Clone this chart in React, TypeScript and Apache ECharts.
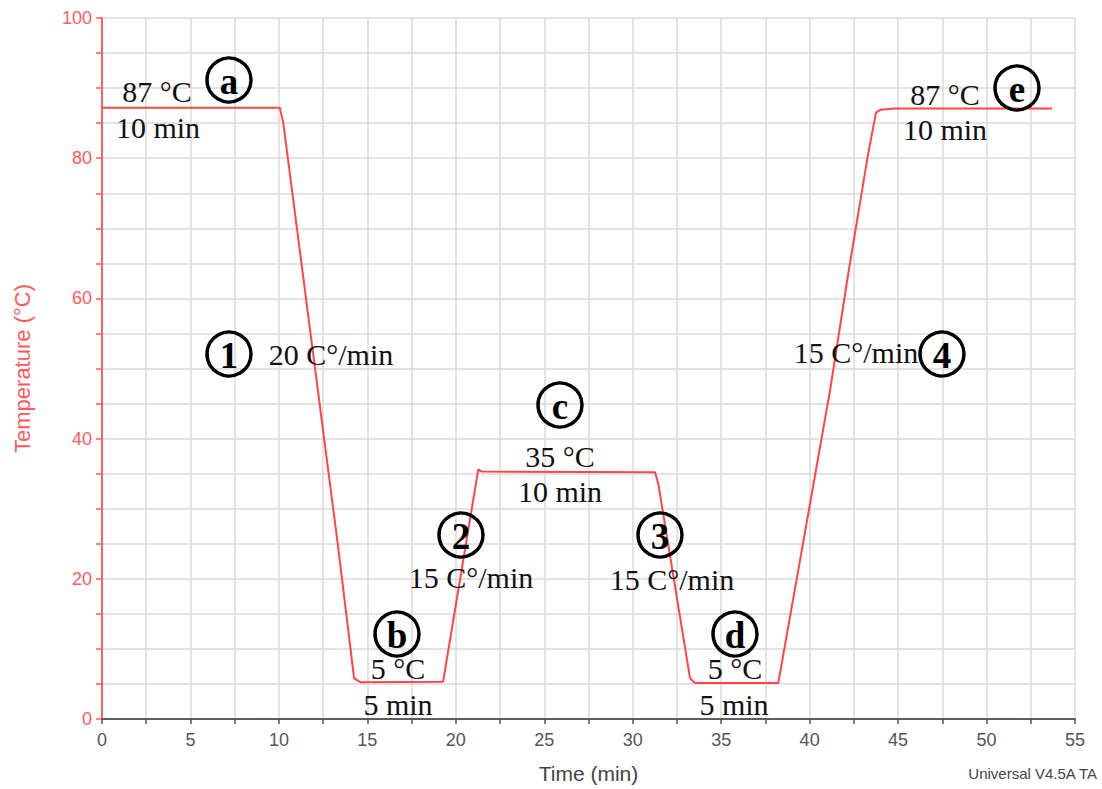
import React, { useEffect, useRef } from "react";
import * as echarts from "echarts";

const timeMin = [0, 10.05, 10.25, 13.35, 14.25, 14.6, 19.28, 21.27, 21.46, 31.26, 31.45, 33.24, 33.52, 38.23, 41.15, 42.2, 43.3, 43.75, 44.0, 44.8, 53.7];
const tempC = [87.2, 87.2, 85, 24.5, 5.8, 5.25, 5.3, 35.6, 35.3, 35.2, 33.5, 5.8, 5.15, 5.15, 46.8, 63.8, 80.5, 86.5, 86.9, 87.1, 87.1];

const xTicks = [0, 5, 10, 15, 20, 25, 30, 35, 40, 45, 50, 55];
const yTicks = [0, 20, 40, 60, 80, 100];

const RED = "#ff5a5a";
const GRID = "#dadada";
const DARK = "#555";

const serif = "'Liberation Serif', 'DejaVu Serif', serif";
const sans = "'Liberation Sans', Arial, sans-serif";

function label(x: number, y: number, text: string) {
  return {
    type: "text",
    x,
    y,
    z: 100,
    style: {
      text,
      fill: "#111",
      font: `30px ${serif}`,
      align: "center",
      verticalAlign: "middle",
    },
  };
}

function badge(x: number, y: number, text: string) {
  return {
    type: "group",
    z: 100,
    children: [
      {
        type: "circle",
        shape: { cx: x, cy: y, r: 22 },
        style: { fill: "none", stroke: "#000", lineWidth: 3.5 },
        z: 100,
      },
      {
        type: "text",
        x,
        y: y + 1,
        z: 100,
        style: {
          text,
          fill: "#000",
          font: `bold 37px ${serif}`,
          align: "center",
          verticalAlign: "middle",
        },
      },
    ],
  };
}

export default function App() {
  const ref = useRef<HTMLDivElement>(null);
  useEffect(() => {
    if (!ref.current) return;
    const chart = echarts.init(ref.current, undefined, { renderer: "svg" });
    const data = timeMin.map((t, i) => [t, tempC[i]]);
    chart.setOption({
      animation: false,
      backgroundColor: "#fff",
      grid: { left: 102, right: 27, top: 18, bottom: 67 },
      xAxis: [
        {
          type: "value",
          min: xTicks[0],
          max: xTicks[xTicks.length - 1],
          interval: 5,
          position: "bottom",
          axisLine: { show: true, onZero: false, lineStyle: { color: DARK, width: 1.5 } },
          axisTick: { show: true, length: 5, lineStyle: { color: DARK, width: 1.5 } },
          minorTick: { show: true, splitNumber: 2, length: 5, lineStyle: { color: DARK, width: 1.5 } },
          splitLine: { show: true, lineStyle: { color: GRID, width: 1.5 } },
          minorSplitLine: { show: true, lineStyle: { color: GRID, width: 1.5 } },
          axisLabel: { color: "#555", fontSize: 18, fontFamily: sans, margin: 12 },
          name: "Time (min)",
          nameLocation: "middle",
          nameGap: 44,
          nameTextStyle: { color: "#444", fontSize: 21, fontFamily: sans },
        },
        {
          type: "value",
          min: 0,
          max: 55,
          position: "top",
          axisLine: { show: true, lineStyle: { color: DARK, width: 1.5 } },
          axisTick: { show: false },
          axisLabel: { show: false },
          splitLine: { show: false },
        },
      ],
      yAxis: [
        {
          type: "value",
          min: yTicks[0],
          max: yTicks[yTicks.length - 1],
          interval: 20,
          position: "left",
          axisLine: { show: true, onZero: false, lineStyle: { color: RED, width: 1.5 } },
          axisTick: { show: true, length: 6, lineStyle: { color: RED, width: 1.5 } },
          minorTick: { show: true, splitNumber: 4, length: 6, lineStyle: { color: RED, width: 1.5 } },
          splitLine: { show: true, lineStyle: { color: GRID, width: 1.5 } },
          minorSplitLine: { show: true, lineStyle: { color: GRID, width: 1.5 } },
          axisLabel: { color: RED, fontSize: 18, fontFamily: sans, margin: 10 },
          name: "Temperature (°C)",
          nameLocation: "middle",
          nameGap: 69,
          nameRotate: 90,
          nameTextStyle: { color: RED, fontSize: 22, fontFamily: sans },
        },
        {
          type: "value",
          min: 0,
          max: 100,
          position: "right",
          axisLine: { show: true, lineStyle: { color: RED, width: 1.5 } },
          axisTick: { show: false },
          axisLabel: { show: false },
          splitLine: { show: false },
        },
      ],
      series: [
        {
          type: "line",
          data,
          xAxisIndex: 0,
          yAxisIndex: 0,
          showSymbol: false,
          symbol: "none",
          lineStyle: { color: "#ff4545", width: 2 },
          z: 5,
        },
      ],
      graphic: [
        label(157, 91, "87 °C"),
        label(158, 127, "10 min"),
        badge(229, 80, "a"),
        badge(229, 354, "1"),
        label(331, 354, "20 C°/min"),
        badge(397, 634, "b"),
        label(398, 668, "5 °C"),
        label(398, 704, "5 min"),
        badge(461, 535, "2"),
        label(471, 577, "15 C°/min"),
        badge(560, 405, "c"),
        label(560, 456, "35 °C"),
        label(560, 491, "10 min"),
        badge(660, 535, "3"),
        label(672, 579, "15 C°/min"),
        badge(735, 634, "d"),
        label(735, 668, "5 °C"),
        label(734, 704, "5 min"),
        label(856, 352, "15 C°/min"),
        badge(942, 354, "4"),
        label(945, 94, "87 °C"),
        label(945, 129, "10 min"),
        badge(1017, 88, "e"),
        {
          type: "text",
          x: 1097,
          y: 773,
          style: {
            text: "Universal V4.5A TA",
            fill: "#444",
            font: `15px ${sans}`,
            align: "right",
            verticalAlign: "middle",
          },
        },
      ],
    });
    return () => chart.dispose();
  }, []);
  return (
    <div
      ref={ref}
      style={{ position: "absolute", left: 0, top: 0, width: 1102, height: 789 }}
    />
  );
}
